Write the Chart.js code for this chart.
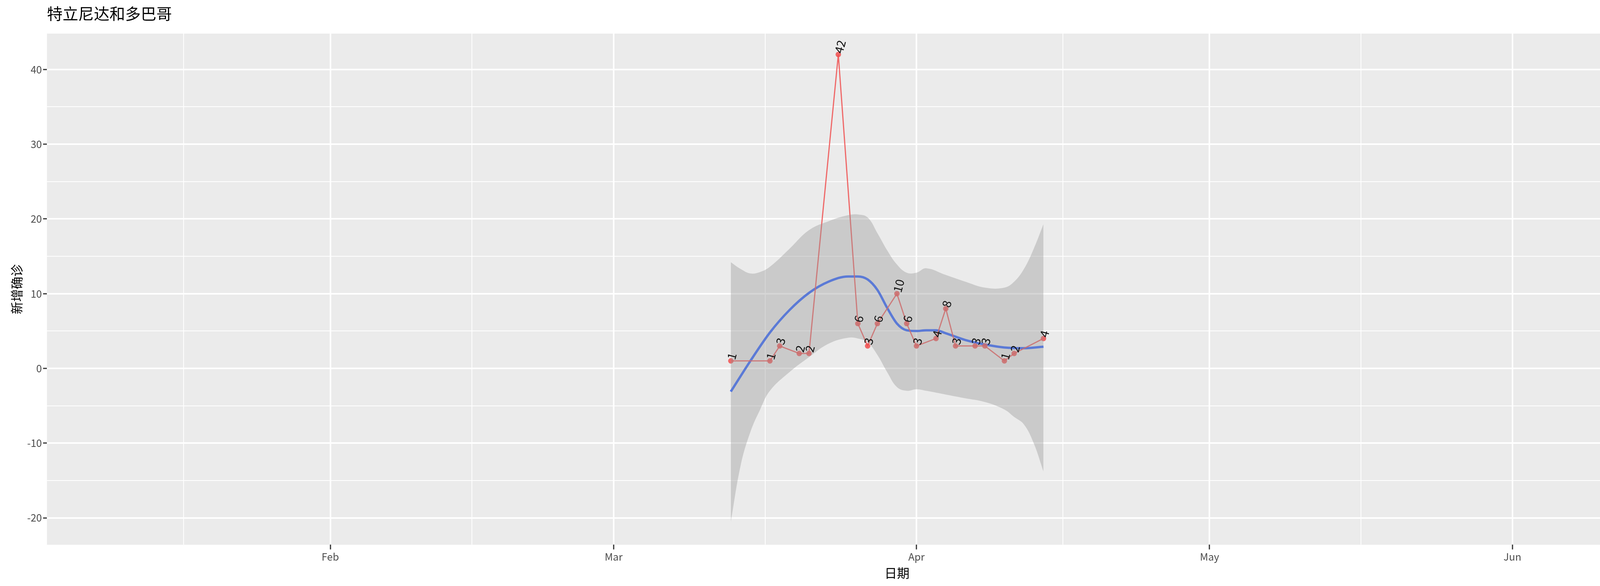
<!DOCTYPE html>
<html>
<head>
<meta charset="utf-8">
<script src="https://cdn.jsdelivr.net/npm/chart.js@4"></script>
<style>
  html, body { margin: 0; padding: 0; background: #fff; overflow: hidden; }
  #chart { display: block; width: 4500px; height: 1500px; }
</style>
</head>
<body>
<canvas id="chart" width="4500" height="1500"></canvas>
<script>
// --- Données (jour de l'année 2020, 1 = 1 janv.) ---
const pointDays   = [73, 77, 78, 80, 81, 84, 86, 87, 88, 90, 91, 92, 94, 95, 96, 98, 99, 101, 102, 105];
const pointValues = [1, 1, 3, 2, 2, 42, 6, 3, 6, 10, 6, 3, 4, 8, 3, 3, 3, 1, 2, 4];

const smoothDays   = [73, 75, 77, 79, 81, 83, 85, 86, 87, 88, 89, 90, 91, 92, 93, 94, 95, 97, 99, 101, 103, 105];
const smoothValues = [-3.1, 1.0, 4.8, 7.8, 10.1, 11.6, 12.3, 12.3, 11.9, 10.5, 8.1, 6.0, 5.1, 5.0, 5.1, 5.1, 4.7, 3.8, 3.2, 2.8, 2.7, 2.9];

const bandDays  = [73, 74, 75, 76, 77, 79, 81, 83, 85, 86, 87, 88, 89, 90, 91, 92, 93, 95, 97, 99, 101, 102, 103, 104, 105];
const bandUpper = [14.2, 13.3, 12.7, 12.9, 13.6, 16.0, 18.5, 19.7, 20.5, 20.6, 20.2, 18.1, 15.8, 13.9, 12.8, 12.8, 13.4, 12.5, 11.6, 10.8, 10.8, 11.6, 13.3, 16.0, 19.3];
const bandLower = [-20.5, -13.0, -8.5, -5.5, -3.0, -0.5, 1.5, 3.3, 4.1, 4.0, 3.5, 1.8, -0.5, -2.5, -3.0, -2.8, -3.0, -3.5, -4.0, -4.5, -5.5, -6.5, -7.5, -10.0, -13.8];

const monthDays   = [32, 61, 92, 122, 153];
const monthLabels = ['Feb', 'Mar', 'Apr', 'May', 'Jun'];
const minorDays   = [17, 46.5, 76.5, 107, 137.5, 168];
const yMajor = [-20, -10, 0, 10, 20, 30, 40];
const yMinor = [-15, -5, 5, 15, 25, 35];

const TITLE = '特立尼达和多巴哥';
const FONT = '"Noto Sans CJK SC", "DejaVu Sans", sans-serif';

// --- Étiquettes tournées ---
const labelPlugin = {
    id: 'pointLabels',
    afterDatasetsDraw(chart) {
        const ctx = chart.ctx;
        const xs = chart.scales.x, ys = chart.scales.y;
        ctx.save();
        ctx.fillStyle = '#111';
        ctx.font = '30px ' + FONT;
        ctx.textAlign = 'left';
        ctx.textBaseline = 'middle';
        pointDays.forEach((d, i) => {
            const px = xs.getPixelForValue(d), py = ys.getPixelForValue(pointValues[i]);
            ctx.save();
            ctx.translate(px, py - 4);
            ctx.rotate(-75 * Math.PI / 180);
            ctx.fillText(String(pointValues[i]), 0, 0);
            ctx.restore();
        });
        ctx.restore();
    }
};

const bgPlugin = {
    id: 'panelBg',
    beforeDraw(chart) {
        const a = chart.chartArea, ctx = chart.ctx;
        ctx.save();
        ctx.fillStyle = '#fff';
        ctx.fillRect(0, 0, chart.width, chart.height);
        ctx.fillStyle = '#EBEBEB';
        ctx.fillRect(a.left, a.top, a.right - a.left, a.bottom - a.top);
        ctx.fillStyle = '#000';
        ctx.font = '40px ' + FONT;
        ctx.textAlign = 'left';
        ctx.textBaseline = 'alphabetic';
        ctx.fillText(TITLE, a.left, 50);
        ctx.restore();
    }
};

const isIn = (arr, v) => arr.some(m => Math.abs(m - v) < 1e-6);

new Chart(document.getElementById('chart'), {
    type: 'line',
    data: {
        datasets: [
            {
                data: bandDays.map((d, i) => ({ x: d, y: bandUpper[i] })),
                borderWidth: 0, pointRadius: 0, tension: 0.4,
                backgroundColor: 'rgba(153,153,153,0.4)', fill: '+1'
            },
            {
                data: bandDays.map((d, i) => ({ x: d, y: bandLower[i] })),
                borderWidth: 0, pointRadius: 0, tension: 0.4, fill: false
            },
            {
                data: pointDays.map((d, i) => ({ x: d, y: pointValues[i] })),
                borderColor: 'rgba(240,80,80,0.85)', borderWidth: 3,
                pointRadius: 7, pointBackgroundColor: 'rgba(240,80,80,0.85)',
                pointBorderWidth: 0, tension: 0, fill: false
            },
            {
                data: smoothDays.map((d, i) => ({ x: d, y: smoothValues[i] })),
                borderColor: '#3366FF', borderWidth: 6, pointRadius: 0,
                tension: 0.4, cubicInterpolationMode: 'monotone', fill: false
            }
        ]
    },
    options: {
        responsive: false,
        animation: false,
        devicePixelRatio: 1,
        layout: { padding: { left: 20, right: 28, top: 86, bottom: 10 } },
        plugins: {
            legend: { display: false },
            tooltip: { enabled: false },
            title: { display: false }
        },
        scales: {
            x: {
                type: 'linear', min: 3, max: 177,
                afterBuildTicks: s => { s.ticks = monthDays.concat(minorDays).map(v => ({ value: v })); },
                grid: {
                    color: '#fff',
                    lineWidth: c => isIn(monthDays, c.tick.value) ? 4 : 2,
                    drawTicks: true, tickLength: 12,
                    tickColor: c => isIn(monthDays, c.tick.value) ? '#333' : 'rgba(0,0,0,0)',
                    tickWidth: 3
                },
                border: { display: false },
                ticks: {
                    autoSkip: false, maxRotation: 0, color: '#4D4D4D',
                    font: { family: FONT, size: 26 },
                    callback: v => { const i = monthDays.indexOf(v); return i >= 0 ? monthLabels[i] : ''; }
                },
                title: { display: true, text: '日期', color: '#000', font: { family: FONT, size: 32 }, padding: { top: 4 } }
            },
            y: {
                min: -23.6, max: 44.8,
                afterBuildTicks: s => { s.ticks = yMajor.concat(yMinor).map(v => ({ value: v })); },
                grid: {
                    color: '#fff',
                    lineWidth: c => isIn(yMajor, c.tick.value) ? 4 : 2,
                    drawTicks: true, tickLength: 10,
                    tickColor: c => isIn(yMajor, c.tick.value) ? '#333' : 'rgba(0,0,0,0)',
                    tickWidth: 3
                },
                border: { display: false },
                ticks: {
                    autoSkip: false, color: '#4D4D4D',
                    font: { family: FONT, size: 26 },
                    callback: v => isIn(yMajor, v) ? String(v) : ''
                },
                title: { display: true, text: '新增确诊', color: '#000', font: { family: FONT, size: 32 } }
            }
        }
    },
    plugins: [bgPlugin, labelPlugin]
});
</script>
</body>
</html>
